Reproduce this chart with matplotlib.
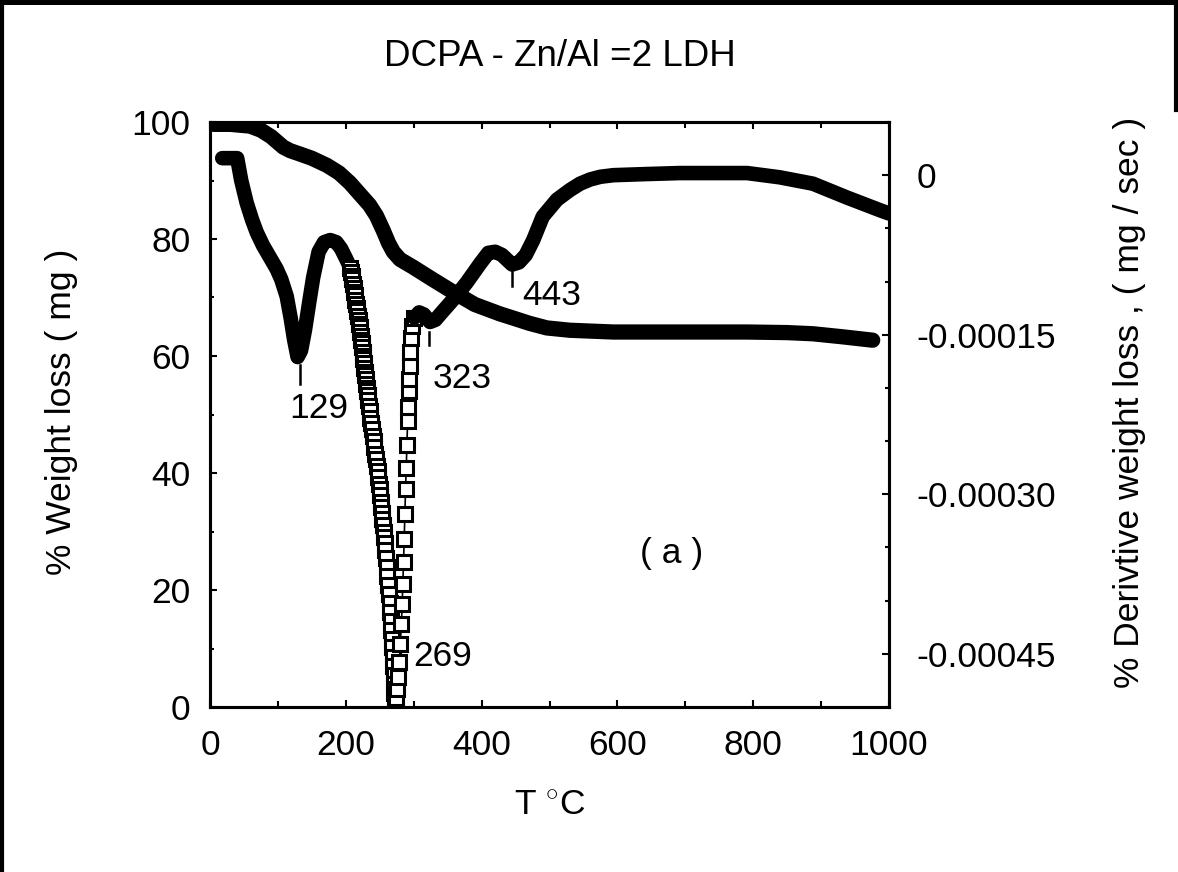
import numpy as np
import matplotlib
matplotlib.use("Agg")
from matplotlib import pyplot as plt
from matplotlib.lines import Line2D
from matplotlib.ticker import MultipleLocator

plt.rcParams['font.family'] = ['Liberation Sans', 'DejaVu Sans']
plt.rcParams['mathtext.fontset'] = 'custom'
plt.rcParams['mathtext.rm'] = 'Liberation Sans'

# TGA curve: temperature (C) vs % weight
tga_T = [5, 30, 59, 75, 90, 100, 108, 118, 133, 150, 172, 190, 206, 222, 235,
         245, 255, 263, 270, 280, 299, 325, 353, 390, 427, 446, 470, 496, 530,
         594, 700, 791, 850, 888, 930, 976]
tga_W = [99.6, 99.6, 99.3, 98.6, 97.5, 96.5, 95.7, 95.1, 94.5, 93.8, 92.6,
         91.3, 89.6, 87.5, 85.8, 84.0, 81.5, 79.3, 77.8, 76.5, 75.2, 73.3,
         71.3, 68.8, 67.2, 66.5, 65.6, 64.8, 64.4, 64.1, 64.1, 64.1, 64.0,
         63.8, 63.3, 62.7]

# DTG curve (units of 1e-5 mg/sec), dense part before the main peak
dtg_a_T = [18, 40, 46, 54, 62, 69, 78, 88, 98, 105, 113, 119, 124, 129, 134,
           140, 146, 152, 160, 168, 177, 186, 193, 200, 206]
dtg_a_v = [1.6, 1.6, -0.5, -2.6, -4.2, -5.4, -6.6, -7.7, -8.8, -9.8, -11.4,
           -13.5, -15.5, -17.1, -16.5, -14.5, -12.0, -9.6, -7.2, -6.3, -6.1,
           -6.3, -6.9, -7.8, -8.6]

# DTG samples around the main peak (open squares)
dtg_b_T = [206.5, 207.5, 208.5, 209.5, 210.5, 211.5, 212.5, 213.5, 214, 215,
           216, 217, 218, 219, 220, 220.5, 221.5, 222, 223, 223.5, 224, 225,
           225.5, 226, 227, 227.5, 228, 229, 229.5, 230, 231, 231.5, 232, 233,
           234, 235, 236, 237, 238, 239.5, 241, 242, 243.5, 245, 246, 247, 248,
           249, 250, 251, 252, 252.5, 253, 254, 255, 256, 256.5, 257, 258, 259,
           260, 261, 262, 263.5, 264.5, 265, 266, 267, 267.5, 268, 269, 270,
           270.5, 271, 271.5, 272,
           274, 276, 277, 279, 280, 282, 283, 284, 285, 286, 287, 288, 289, 290,
           291, 292, 293, 293.5, 294, 295, 296, 298, 301]
dtg_b_v = [-8.7, -9.1, -9.5, -9.8, -10.2, -10.6, -11.0, -11.3, -11.7, -12.1,
           -12.5, -12.8, -13.2, -13.6, -14.0, -14.3, -14.7, -15.1, -15.5, -15.8,
           -16.2, -16.6, -17.0, -17.3, -17.7, -18.1, -18.5, -18.8, -19.2, -19.6,
           -20.0, -20.3, -20.7, -21.1, -21.7, -22.2, -22.8, -23.3, -23.9, -24.5,
           -25.0, -25.6, -26.2, -26.7, -27.3, -27.8, -28.4, -29.0, -29.5, -30.1,
           -30.7, -31.2, -31.8, -32.3, -32.9, -33.5, -34.0, -34.6, -35.2, -36.0,
           -36.8, -37.7, -38.5, -39.4, -40.2, -41.1, -41.9, -42.8, -43.6, -44.4,
           -45.3, -46.1, -47.0, -47.8, -48.7, -49.5,
           -49.2, -48.3, -47.2, -45.8, -44.1, -42.2, -40.3, -38.4, -36.4, -34.2,
           -31.9, -29.5, -27.5, -25.4, -23.1, -21.8, -20.3, -19.2, -17.9, -16.6,
           -15.3, -14.2, -13.4]

# DTG dense part after the main peak
dtg_c_T = [301, 308, 315, 324, 332, 340, 358, 378, 398, 410, 420, 430, 445, 455,
           465, 476, 490, 511, 530, 545, 560, 575, 594, 640, 692, 750, 791, 839,
           888, 938, 987, 1000]
dtg_c_v = [-13.4, -12.9, -13.1, -13.8, -13.6, -13.0, -11.7, -10.1, -8.3, -7.3,
           -7.2, -7.5, -8.4, -8.2, -7.5, -6.1, -3.9, -2.3, -1.4, -0.8, -0.4,
           -0.15, 0.0, 0.1, 0.2, 0.2, 0.2, -0.2, -0.8, -2.1, -3.3, -3.6]

# peak labels: text, tick position (T, v1e-5 top/bottom), label position (T, W)
peak_labels = ['129', '323', '443', '269']
peak_tick_T = [132, 322.5, 445, None]
peak_tick_v = [(-17.8, -19.6), (-14.7, -16.0), (-8.9, -10.4), None]
peak_text_T = [160, 371, 504, 343]
peak_text_W = [51.0, 56.1, 70.4, 8.6]

FS = 25.5

fig = plt.figure(figsize=(11.78, 8.72), dpi=100)
ax = fig.add_axes([210 / 1178, 1 - 707 / 872, 679 / 1178, 585 / 872])
ax2 = ax.twinx()

ax.plot(tga_T, tga_W, color='black', lw=11, solid_capstyle='round',
        solid_joinstyle='round', zorder=3)

scale = 1e-5
ax2.plot(dtg_a_T, np.array(dtg_a_v) * scale, color='black', lw=10.5,
         solid_capstyle='round', solid_joinstyle='round')
ax2.plot(dtg_b_T, np.array(dtg_b_v) * scale, color='black', lw=1.2,
         marker='s', ms=9.5, mfc='white', mec='black', mew=2.2)
ax2.plot(dtg_c_T, np.array(dtg_c_v) * scale, color='black', lw=10.5,
         solid_capstyle='round', solid_joinstyle='round')

for lab, tT, tv, xT, yW in zip(peak_labels, peak_tick_T, peak_tick_v,
                               peak_text_T, peak_text_W):
    if tT is not None:
        ax2.plot([tT, tT], np.array(tv) * scale, color='black', lw=1.8)
    ax.text(xT, yW, lab, fontsize=FS, ha='center', va='center')

ax.text(680, 26.3, '( a )', fontsize=FS, ha='center', va='center')

ax.set_xlim(0, 1000)
ax.set_ylim(0, 100)
ax2.set_ylim(-0.0005, 0.00005)

ax.set_xticks([0, 200, 400, 600, 800, 1000])
ax.xaxis.set_minor_locator(MultipleLocator(100))
ax.set_yticks([0, 20, 40, 60, 80, 100])
ax.yaxis.set_minor_locator(MultipleLocator(10))
ax2.set_yticks([0, -0.00015, -0.0003, -0.00045])
ax2.set_yticklabels(['0', '-0.00015', '-0.00030', '-0.00045'])
ax2.yaxis.set_minor_locator(MultipleLocator(0.00005))

ax.tick_params(axis='x', which='both', direction='in', top=True, bottom=True,
               labelsize=FS, pad=16, width=1.5)
ax.tick_params(axis='x', which='major', length=5)
ax.tick_params(axis='x', which='minor', length=4)
ax.tick_params(axis='y', which='both', direction='in', left=True, right=False,
               labelsize=FS, pad=14, width=1.5)
ax.tick_params(axis='y', which='major', length=5)
ax.tick_params(axis='y', which='minor', length=3)
ax2.tick_params(axis='y', which='both', direction='in', right=True,
                labelsize=FS, pad=20, width=1.5)
ax2.tick_params(axis='y', which='major', length=5)
ax2.tick_params(axis='y', which='minor', length=3)

for a in (ax, ax2):
    for s in a.spines.values():
        s.set_linewidth(2.2)

fig.text(560 / 1178, 1 - 57 / 872, 'DCPA - Zn/Al =2 LDH', fontsize=26.5,
         ha='center', va='center')
fig.text(550 / 1178, 1 - 805 / 872, r'T $^{\circ}$C', fontsize=FS,
         ha='center', va='center')
fig.text(62 / 1178, 1 - 412 / 872, '% Weight loss ( mg )', fontsize=FS,
         rotation=90, ha='center', va='center')
fig.text(1130 / 1178, 1 - 402 / 872, '% Derivtive weight loss , ( mg / sec )',
         fontsize=FS, rotation=90, ha='center', va='center')

# outer frame
fig.add_artist(Line2D([0, 1], [1 - 2.5 / 872] * 2, color='black', lw=3.6,
                      transform=fig.transFigure))
fig.add_artist(Line2D([2 / 1178] * 2, [0, 1], color='black', lw=3,
                      transform=fig.transFigure))
fig.add_artist(Line2D([1 - 2 / 1178] * 2, [1 - 110 / 872, 1], color='black',
                      lw=3, transform=fig.transFigure))

fig.savefig('out.png', dpi=100)
